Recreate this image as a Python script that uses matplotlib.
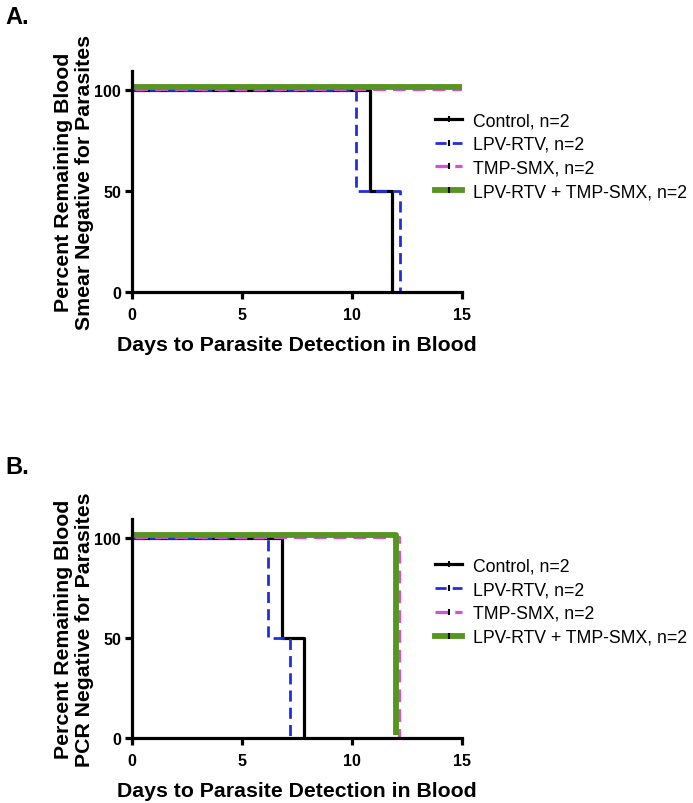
import matplotlib
matplotlib.use("Agg")
import matplotlib.pyplot as plt
from matplotlib.lines import Line2D
from matplotlib import transforms

plt.rcParams['font.family'] = ['Liberation Sans', 'DejaVu Sans']

series_names = ["Control, n=2", "LPV-RTV, n=2", "TMP-SMX, n=2", "LPV-RTV + TMP-SMX, n=2"]

# Panel A: blood smear (event times, survival %)
a_control_t = [0, 10.8, 11.8]
a_control_s = [100, 50, 0]
a_lpv_t = [0, 10.2, 12.2]
a_lpv_s = [100, 50, 0]
a_tmp_t = [0, 15]
a_tmp_s = [100, 100]
a_combo_t = [0, 15]
a_combo_s = [100, 100]

# Panel B: PCR
b_control_t = [0, 6.8, 7.8]
b_control_s = [100, 50, 0]
b_lpv_t = [0, 6.2, 7.2]
b_lpv_s = [100, 50, 0]
b_tmp_t = [0, 12.0]
b_tmp_s = [100, 0]
b_combo_t = [0, 12.0]
b_combo_s = [100, 0]

x_ticks = [0, 5, 10, 15]
y_ticks = [0, 50, 100]

styles = [
    dict(color='black', lw=2.3, ls='-', dx=0, dy=0),
    dict(color='#1f2fe0', lw=2.0, ls=(0, (4, 2.2)), dx=0, dy=0),
    dict(color='#d64fd9', lw=2.3, ls=(0, (4, 2.2)), dx=2.5, dy=1.5),
    dict(color='#56951f', lw=4.2, ls='-', dx=0, dy=3.5),
]

fig = plt.figure(figsize=(6.93, 8.04), dpi=100)


def panel(rect, data, ylabel, letter, letter_y, legend_y):
    ax = fig.add_axes(rect)
    for (t, s), st in zip(data, styles):
        tr = transforms.offset_copy(ax.transData, fig=fig, x=st['dx'], y=st['dy'], units='dots')
        ax.plot(t, s, drawstyle='steps-post', color=st['color'], lw=st['lw'],
                ls=st['ls'], transform=tr, solid_capstyle='butt', dash_capstyle='butt')
    ax.set_xlim(0, 15)
    ax.set_ylim(0, 109.5)
    ax.set_xticks(x_ticks)
    ax.set_yticks(y_ticks)
    for sp in ['top', 'right']:
        ax.spines[sp].set_visible(False)
    for sp in ['left', 'bottom']:
        ax.spines[sp].set_linewidth(2.3)
    ax.tick_params(width=2.3, length=5, labelsize=11.5, pad=3)
    ax.tick_params(axis='x', pad=6)
    for lab in ax.get_xticklabels() + ax.get_yticklabels():
        lab.set_fontweight('bold')
    ax.set_xlabel("Days to Parasite Detection in Blood", fontsize=15.3, fontweight='bold', labelpad=9)
    ax.set_ylabel(ylabel, fontsize=15.3, fontweight='bold', labelpad=0, linespacing=1.15)
    handles = [Line2D([], [], color=st['color'], lw=st['lw'], ls=st['ls'], marker='|',
                      markeredgecolor='black', markersize=4, markeredgewidth=1.5)
               for st in styles]
    fig.legend(handles, series_names, loc='upper left', bbox_to_anchor=(0.605, legend_y),
               frameon=False, fontsize=12.7, handlelength=1.55, handletextpad=0.62,
               labelspacing=0.38, numpoints=1)
    fig.text(0.008, letter_y, letter, fontsize=17, fontweight='bold', va='top', ha='left')
    return ax


panel([0.1905, 0.6356, 0.4762, 0.2749],
      [(a_control_t, a_control_s), (a_lpv_t, a_lpv_s), (a_tmp_t, a_tmp_s), (a_combo_t, a_combo_s)],
      "Percent Remaining Blood\nSmear Negative for Parasites", "A.", 0.993, 0.879)
panel([0.1905, 0.0808, 0.4762, 0.2724],
      [(b_control_t, b_control_s), (b_lpv_t, b_lpv_s), (b_tmp_t, b_tmp_s), (b_combo_t, b_combo_s)],
      "Percent Remaining Blood\nPCR Negative for Parasites", "B.", 0.433, 0.325)

fig.savefig("out.png", dpi=100)
